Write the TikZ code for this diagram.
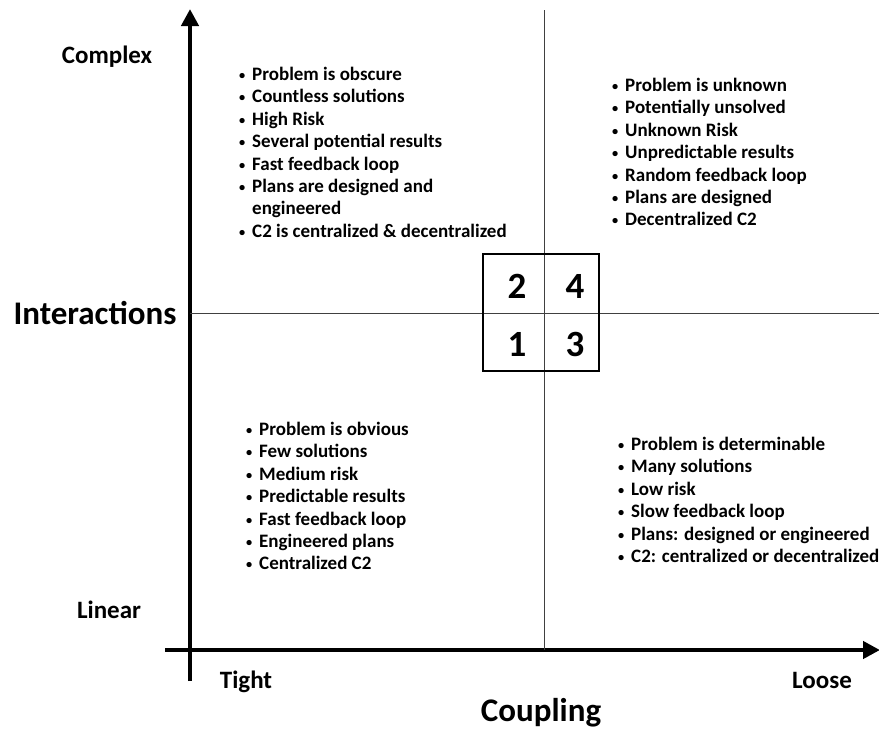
\documentclass[tikz,border=0pt]{standalone}
\usepackage{fontspec}
\setmainfont{Carlito}
\usetikzlibrary{arrows.meta,positioning}

\newcommand{\itm}{\makebox[13pt][l]{\raisebox{1pt}{\scalebox{0.65}{\textbullet}}}}
\newcommand{\cnt}{\hspace*{13pt}}

\begin{document}
\begin{tikzpicture}[
    x=1pt, y=-1pt,
    axis/.style={line width=4.5pt, -{Triangle[length=17pt,width=17pt]}},
    grid/.style={line width=0.7pt, black!75},
    list/.style={anchor=north west, inner sep=0pt, align=left, font=\fontsize{19}{22.4}\selectfont\bfseries},
    lbl/.style={anchor=base, inner sep=0pt, font=\fontsize{25}{28}\selectfont\bfseries},
    title/.style={anchor=base, inner sep=0pt, font=\fontsize{33}{36}\selectfont\bfseries},
    num/.style={inner sep=0pt, font=\fontsize{37}{38}\selectfont\bfseries}
]
\useasboundingbox (0,0) rectangle (879,729);

% axes
\coordinate (ybot) at (190,681);
\coordinate (ytop) at (190,9);
\coordinate (xleft) at (165,650);
\coordinate (xright) at (880,650);
\draw[axis] (ybot) -- (ytop);
\draw[axis] (xleft) -- (xright);

% quadrant lines
\coordinate (vtop) at (544,10);
\coordinate (vbot) at (544,650);
\coordinate (hleft) at (190,313);
\coordinate (hright) at (879,313);
\draw[grid] (vtop) -- (vbot);
\draw[grid] (hleft) -- (hright);

% centre box
\node[draw, line width=1.5pt, minimum width=116pt, minimum height=117pt, inner sep=0pt] (box) at (541,312.5) {};
\node[num] (n2) at (517,286) {2};
\node[num] (n4) at (575,286) {4};
\node[num] (n1) at (517,344) {1};
\node[num] (n3) at (575,344) {3};

% axis labels
\node[lbl] (complex) at (107,63) {Complex};
\node[lbl] (linear) at (109,618) {Linear};
\node[lbl] (tight) at (246,688) {Tight};
\node[lbl] (loose) at (822,688) {Loose};
\node[title] (inter) at (95,324) {Interactions};
\node[title] (coup) at (541,721) {Coupling};

% quadrants
\node[list] (q2) at (239,67) {\itm Problem is obscure\\ \itm Countless solutions\\ \itm High Risk\\ \itm Several potential results\\ \itm Fast feedback loop\\ \itm Plans are designed and\\ \cnt engineered\\ \itm C2 is centralized \& decentralized};
\node[list] (q4) at (612,78) {\itm Problem is unknown\\ \itm Potentially unsolved\\ \itm Unknown Risk\\ \itm Unpredictable results\\ \itm Random feedback loop\\ \itm Plans are designed\\ \itm Decentralized C2};
\node[list] (q1) at (246,422) {\itm Problem is obvious\\ \itm Few solutions\\ \itm Medium risk\\ \itm Predictable results\\ \itm Fast feedback loop\\ \itm Engineered plans\\ \itm Centralized C2};
\node[list] (q3) at (618,437) {\itm Problem is determinable\\ \itm Many solutions\\ \itm Low risk\\ \itm Slow feedback loop\\ \itm Plans: designed or engineered\\ \itm C2: centralized or decentralized};
\end{tikzpicture}
\end{document}
